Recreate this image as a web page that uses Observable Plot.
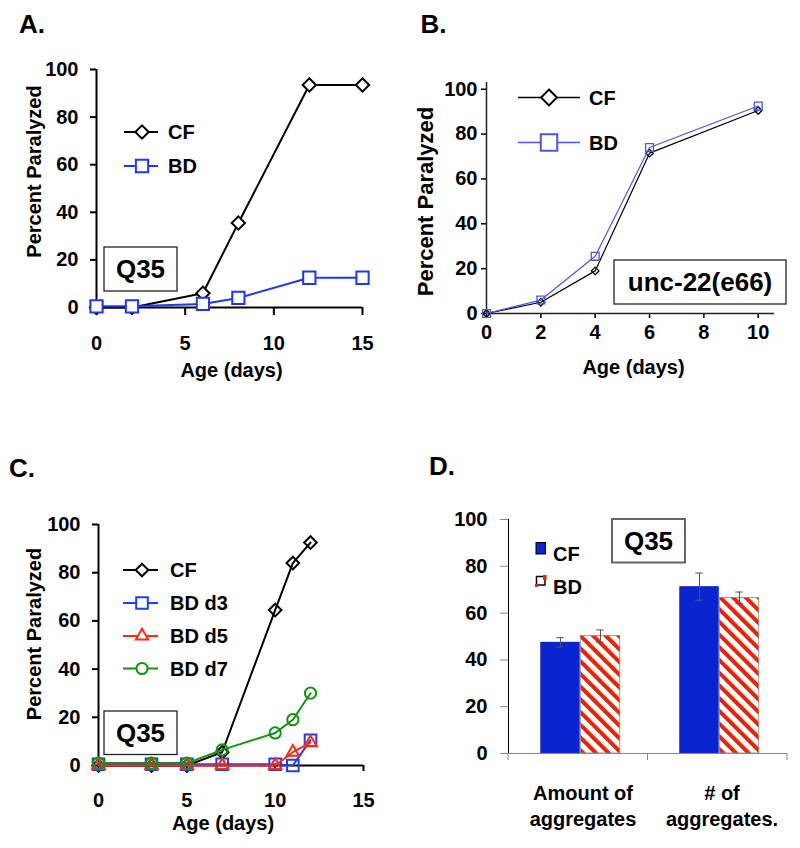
<!DOCTYPE html>
<html>
<head>
<meta charset="utf-8">
<script src="https://cdn.jsdelivr.net/npm/d3@7"></script>
<script src="https://cdn.jsdelivr.net/npm/@observablehq/plot@0.6"></script>
<style>
html, body { margin: 0; padding: 0; background: #fff; }
#root { position: relative; width: 800px; height: 848px; overflow: hidden; }
.pa g[aria-label^="x-axis"] line, .pa g[aria-label^="x-axis"] path,
.pa g[aria-label^="y-axis"] line, .pa g[aria-label^="y-axis"] path { stroke-width: 2px; }
.pb g[aria-label^="x-axis"] line, .pb g[aria-label^="x-axis"] path,
.pb g[aria-label^="y-axis"] line, .pb g[aria-label^="y-axis"] path { stroke-width: 1.5px; }
.pd g[aria-label^="y-axis"] line, .pd g[aria-label^="y-axis"] path { stroke: #888; stroke-width: 1px; }
</style>
</head>
<body>
<div id="root"></div>
<svg width="0" height="0" style="position:absolute;left:0;top:0">
  <defs>
    <pattern id="hatch" patternUnits="userSpaceOnUse" width="9" height="9" patternTransform="rotate(-45)">
      <rect x="0" y="0" width="9" height="9" fill="#ffffff"></rect>
      <rect x="0" y="0" width="4" height="9" fill="#ee2200"></rect>
    </pattern>
  </defs>
</svg>
<script>
// ---------------- DATA ----------------
// Panel A (Q35)
const agesA = [0, 2, 6, 8, 12, 15];
const cfA = [0, 0, 6, 35.5, 93.5, 93.5];
const bdA = [0.5, 0.5, 1.5, 4, 12.5, 12.5];
const seriesA = ["CF", "BD"];

// Panel B (unc-22(e66))
const agesB = [0, 2, 4, 6, 10];
const cfB = [0, 5, 19, 71.5, 90.5];
const bdB = [0, 6, 25.5, 74, 92.5];
const seriesB = ["CF", "BD"];

// Panel C (Q35, BD started at different days)
const agesC = [0, 3, 5, 7, 10, 11, 12];
const cfC = [0, 0, 0, 5.5, 64.5, 84, 92.5];
const bdD3C = [0.5, 0.5, 0.5, 0.5, 0.5, 0, 10.5];
const bdD5C = [0, 0, 0, 0, 0, 5.5, 9.5];
const bdD7C = [1, 1, 1, 6.5, 13.5, 19, 30];
const seriesC = ["CF", "BD d3", "BD d5", "BD d7"];

// Panel D (aggregates)
const categoriesD = ["Amount of\naggregates", "# of\naggregates."];
const cfD = [47.5, 71.3];
const bdD = [50.2, 66.5];
const cfErrD = [2, 5.8];
const bdErrD = [2.6, 2.5];
const seriesD = ["CF", "BD"];

// Tick labels / texts
const xTicksA = [0, 5, 10, 15];
const xTicksB = [0, 2, 4, 6, 8, 10];
const xTicksC = [0, 5, 10, 15];
const yTicks = [0, 20, 40, 60, 80, 100];
const xTitle = "Age (days)";
const yTitle = "Percent Paralyzed";
const panelLetters = ["A.", "B.", "C.", "D."];
const boxLabels = ["Q35", "unc-22(e66)", "Q35", "Q35"];

// ---------------- STYLES ----------------
const FONT = "'Liberation Sans', Arial, Helvetica, sans-serif";
const baseStyle = {fontFamily: FONT, fontSize: "20px", fontWeight: "bold", color: "#000", background: "transparent", overflow: "visible"};
const blueA = "#1f36f2", blueB = "#4a56e6", blueC = "#1f3ef5", redC = "#ff2a10", greenC = "#129412", blueD = "#0b24d2", redD = "#ee2200";

const styleA = [
  {color: "#000", symbol: "diamond2", r: 6, lw: 2, sw: 2, fill: "white"},
  {color: blueA, symbol: "square2", r: 7.8, lw: 2, sw: 2, fill: "white"}
];
const styleB = [
  {color: "#000", symbol: "diamond2", r: 3.4, lw: 1.2, sw: 1.3, fill: "none"},
  {color: blueB, symbol: "square2", r: 5, lw: 1.2, sw: 1.3, fill: "none"}
];
const styleC = [
  {color: "#000", symbol: "diamond2", r: 5.7, lw: 2, sw: 2, fill: "none"},
  {color: blueC, symbol: "square2", r: 7.4, lw: 2, sw: 2, fill: "none"},
  {color: redC, symbol: "triangle2", r: 5.9, lw: 2, sw: 2, fill: "none"},
  {color: greenC, symbol: "circle", r: 5.6, lw: 2, sw: 2, fill: "none"}
];

const root = document.getElementById("root");
function place(el, left, top) {
  el.style.position = "absolute";
  el.style.left = left + "px";
  el.style.top = top + "px";
  root.appendChild(el);
}
function rows(xs, ys) { return xs.map((x, i) => ({x, y: ys[i]})); }
function seriesMarks(xs, ys, s) {
  const d = rows(xs, ys);
  return [
    Plot.line(d, {x: "x", y: "y", stroke: s.color, strokeWidth: s.lw}),
    Plot.dot(d, {x: "x", y: "y", symbol: s.symbol, r: s.r, stroke: s.color, strokeWidth: s.sw, fill: s.fill})
  ];
}
function xTitleMark(dx, dy) {
  return Plot.text([xTitle], {frameAnchor: "bottom", lineAnchor: "middle", textAnchor: "middle", dx, dy, text: d => d});
}
function yTitleMark(dx, dy, fontSize = 20) {
  return Plot.text([yTitle], {frameAnchor: "left", lineAnchor: "middle", textAnchor: "middle", rotate: -90, dx, dy, fontSize, text: d => d});
}

// ---------------- PANEL A ----------------
const chartA = Plot.plot({
  width: 400, height: 400, marginLeft: 96, marginRight: 38, marginTop: 69, marginBottom: 93,
  className: "pa", style: baseStyle,
  x: {domain: [0, 15], ticks: xTicksA, tickSize: 8, tickPadding: 20, label: null},
  y: {domain: [0, 100], ticks: yTicks, tickSize: 6, tickPadding: 12, label: null},
  marks: [
    Plot.ruleX([0], {stroke: "#000", strokeWidth: 2}),
    Plot.ruleY([0], {stroke: "#000", strokeWidth: 2}),
    ...seriesMarks(agesA, cfA, styleA[0]),
    ...seriesMarks(agesA, bdA, styleA[1]),
    xTitleMark(2, 63),
    yTitleMark(-62, -17)
  ]
});
place(chartA, 0, 0);

// ---------------- PANEL B ----------------
const chartB = Plot.plot({
  width: 400, height: 400, marginLeft: 86, marginRight: 26, marginTop: 82, marginBottom: 87,
  className: "pb", style: baseStyle,
  x: {domain: [0, 10.6], ticks: xTicksB, tickSize: 5, tickPadding: 6, label: null},
  y: {domain: [0, 103], ticks: yTicks, tickSize: 5, tickPadding: 4, label: null},
  marks: [
    Plot.ruleX([0], {stroke: "#222", strokeWidth: 1.5}),
    Plot.ruleY([0], {stroke: "#222", strokeWidth: 1.5}),
    ...seriesMarks(agesB, cfB, styleB[0]),
    ...seriesMarks(agesB, bdB, styleB[1]),
    xTitleMark(3, 54),
    yTitleMark(-61, 3.5, 22)
  ]
});
place(chartB, 400, 0);

// ---------------- PANEL C ----------------
const chartC = Plot.plot({
  width: 400, height: 428, marginLeft: 98, marginRight: 37, marginTop: 104, marginBottom: 83,
  className: "pa", style: baseStyle,
  x: {domain: [0, 15], ticks: xTicksC, tickSize: 6, tickPadding: 21, label: null},
  y: {domain: [0, 100], ticks: yTicks, tickSize: 6, tickPadding: 12, label: null},
  marks: [
    Plot.ruleX([0], {stroke: "#000", strokeWidth: 2}),
    Plot.ruleY([0], {stroke: "#000", strokeWidth: 2}),
    ...seriesMarks(agesC, cfC, styleC[0]),
    ...seriesMarks(agesC, bdD3C, styleC[1]),
    ...seriesMarks(agesC, bdD5C, styleC[2]),
    ...seriesMarks(agesC, bdD7C, styleC[3]),
    xTitleMark(-8, 58),
    yTitleMark(-63.5, -11)
  ]
});
place(chartC, 0, 420);

// ---------------- PANEL D ----------------
const dData = categoriesD.map((c, i) => ({cat: c, cf: cfD[i], bd: bdD[i], cfe: cfErrD[i], bde: bdErrD[i]}));
const widthD = 400, mlD = 108, mrD = 13;
const bw = (widthD - mlD - mrD) / categoriesD.length;
const barW = 40, shift = 1.5, capW = 8;
const cfIn = {insetLeft: bw / 2 - barW + shift, insetRight: bw / 2 - shift};
const bdIn = {insetLeft: bw / 2 + shift, insetRight: bw / 2 - barW - shift};
const cfCap = {insetLeft: bw / 2 - barW / 2 + shift - capW / 2, insetRight: bw / 2 + barW / 2 - shift - capW / 2};
const bdCap = {insetLeft: bw / 2 + barW / 2 + shift - capW / 2, insetRight: bw / 2 - barW / 2 - shift - capW / 2};
const chartD = Plot.plot({
  width: widthD, height: 428, marginLeft: mlD, marginRight: mrD, marginTop: 99, marginBottom: 95,
  className: "pd", style: baseStyle,
  x: {domain: categoriesD, padding: 0, axis: null},
  y: {domain: [0, 100], ticks: yTicks, tickSize: 8, tickPadding: 13, label: null, line: true},
  marks: [
    Plot.barY(dData, {x: "cat", y: "cf", fill: blueD, ...cfIn}),
    Plot.barY(dData, {x: "cat", y: "bd", fill: "url(#hatch)", stroke: "#888", strokeWidth: 0.8, ...bdIn}),
    Plot.ruleY([0], {stroke: "#888", strokeWidth: 1}),
    Plot.ruleX(dData, {x: "cat", y1: d => d.cf - d.cfe, y2: d => d.cf + d.cfe, dx: -barW / 2 + shift, stroke: "#555", strokeWidth: 1}),
    Plot.ruleX(dData, {x: "cat", y1: d => d.bd - d.bde, y2: d => d.bd + d.bde, dx: barW / 2 + shift, stroke: "#555", strokeWidth: 1}),
    Plot.tickY(dData, {x: "cat", y: d => d.cf + d.cfe, stroke: "#555", strokeWidth: 1, ...cfCap}),
    Plot.tickY(dData, {x: "cat", y: d => d.cf - d.cfe, stroke: "#555", strokeWidth: 1, ...cfCap}),
    Plot.tickY(dData, {x: "cat", y: d => d.bd + d.bde, stroke: "#555", strokeWidth: 1, ...bdCap}),
    Plot.tickY(dData, {x: "cat", y: d => d.bd - d.bde, stroke: "#555", strokeWidth: 1, ...bdCap}),
    Plot.text(dData, {x: "cat", frameAnchor: "bottom", lineAnchor: "top", textAnchor: "middle", dy: 28, dx: 4, lineHeight: 1.3, text: "cat"})
  ]
});
// category boundary ticks on the x axis
{
  const sx = chartD.scale("x"), sy = chartD.scale("y");
  const [r0, r1] = sx.range;
  const n = sx.domain.length;
  const y0 = sy.apply(0);
  d3.select(chartD).append("g").attr("stroke", "#888").attr("stroke-width", 1)
    .selectAll("line").data(d3.range(n + 1)).join("line")
    .attr("x1", i => r0 + i * (r1 - r0) / n).attr("x2", i => r0 + i * (r1 - r0) / n)
    .attr("y1", y0).attr("y2", y0 + 7);
}
place(chartD, 400, 420);

// ---------------- OVERLAY: letters, legends, boxes ----------------
const overlay = d3.create("svg").attr("width", 800).attr("height", 848)
  .style("position", "absolute").style("left", "0px").style("top", "0px")
  .style("font-family", FONT).style("font-weight", "bold");
root.appendChild(overlay.node());

const letterPos = [[19, 33.3], [420.5, 33.3], [9, 477.3], [429, 475]];
overlay.selectAll("text.letter").data(panelLetters).join("text").attr("class", "letter")
  .attr("x", (d, i) => letterPos[i][0]).attr("y", (d, i) => letterPos[i][1])
  .attr("font-size", 26).text(d => d);

const symMap = {diamond2: d3.symbolDiamond2, square2: d3.symbolSquare2, triangle2: d3.symbolTriangle2, circle: d3.symbolCircle};
function lineLegend(names, styles, ys, x1, x2, xs, xt, symScale = 1, lwOverride) {
  const g = overlay.append("g");
  names.forEach((name, i) => {
    const s = styles[i], y = ys[i];
    g.append("line").attr("x1", x1).attr("x2", x2).attr("y1", y).attr("y2", y)
      .attr("stroke", s.color).attr("stroke-width", lwOverride ?? s.lw);
    const r = s.r * symScale;
    g.append("path").attr("d", d3.symbol(symMap[s.symbol], r * r * Math.PI)())
      .attr("transform", `translate(${xs},${y})`)
      .attr("fill", "white").attr("stroke", s.color).attr("stroke-width", lwOverride ? lwOverride + 0.5 : s.sw);
    g.append("text").attr("x", xt).attr("y", y).attr("dy", "0.36em").attr("font-size", 20).text(name);
  });
}
lineLegend(seriesA, styleA, [132, 166], 124, 158, 142, 168);
lineLegend(seriesB, styleB, [97.5, 142.5], 518, 580, 549, 589, 2.1, 1.5);
lineLegend(seriesC, styleC, [570, 603, 636, 668.5], 123, 158, 142, 170);

function box(x, y, w, h, label, stroke, sw) {
  overlay.append("rect").attr("x", x).attr("y", y).attr("width", w).attr("height", h)
    .attr("fill", "white").attr("stroke", stroke).attr("stroke-width", sw);
  overlay.append("text").attr("x", x + w / 2).attr("y", y + h / 2).attr("dy", "0.36em")
    .attr("text-anchor", "middle").attr("font-size", 26).text(label);
}
box(104, 247, 73, 44, boxLabels[0], "#222", 1.3);
box(614, 260, 172, 44, boxLabels[1], "#222", 1.3);
box(104, 711, 73, 43.5, boxLabels[2], "#222", 1.3);
box(612, 519, 73, 43.5, boxLabels[3], "#666", 2);

// Panel D legend
{
  const g = overlay.append("g");
  g.append("rect").attr("x", 536).attr("y", 542.5).attr("width", 9.5).attr("height", 11.5)
    .attr("fill", blueD).attr("stroke", "#000").attr("stroke-width", 1);
  g.append("text").attr("x", 553).attr("y", 554).attr("dy", "0.36em").attr("font-size", 20).text(seriesD[0]);
  g.append("rect").attr("x", 536.5).attr("y", 576.5).attr("width", 8.5).attr("height", 8.5)
    .attr("fill", "white").attr("stroke", "#000").attr("stroke-width", 1.5);
  g.append("rect").attr("x", 543).attr("y", 575).attr("width", 3.5).attr("height", 5).attr("fill", redD);
  g.append("rect").attr("x", 535).attr("y", 584).attr("width", 3).attr("height", 3).attr("fill", redD);
  g.append("text").attr("x", 553).attr("y", 586.5).attr("dy", "0.36em").attr("font-size", 20).text(seriesD[1]);
}
</script>
</body>
</html>
